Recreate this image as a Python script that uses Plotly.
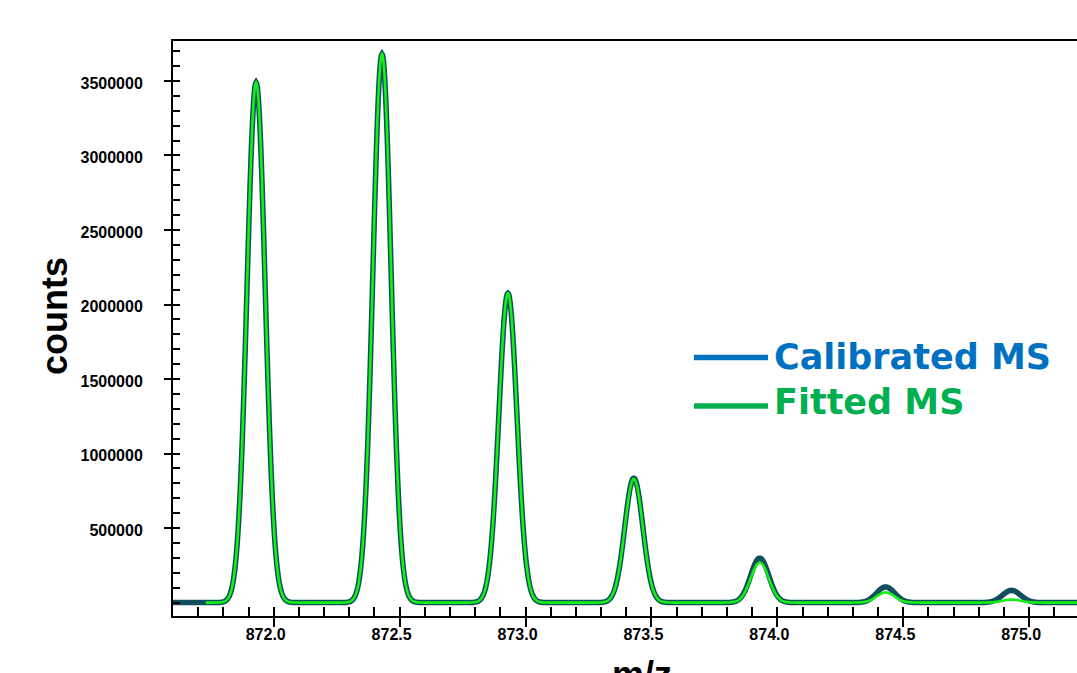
import numpy as np
import plotly.graph_objects as go

# ---- data ----
peak_mz = [871.93, 872.43, 872.93, 873.43, 873.93, 874.43, 874.93]
calibrated_heights = [3490000, 3680000, 2075000, 835000, 298000, 105000, 82000]
fitted_heights = [3490000, 3680000, 2075000, 830000, 268000, 68000, 20000]
peak_sigma = 0.036
calibrated_mz_range = [871.55, 875.40]
fitted_mz_range = [871.73, 875.40]

y_tick_vals = [500000, 1000000, 1500000, 2000000, 2500000, 3000000, 3500000]
y_tick_text = [str(v) for v in y_tick_vals]
x_tick_vals = [872.0, 872.5, 873.0, 873.5, 874.0, 874.5, 875.0]
x_tick_text = ["%.1f" % v for v in x_tick_vals]
x_minor_vals = [round(871.7 + 0.1 * i, 1) for i in range(35)]
y_minor_vals = [100000 * i for i in range(38)]

x_range = [871.60, 875.19]
y_range = [-90000, 3768000]


def profile(lo, hi, heights):
    mz = np.arange(lo, hi, 0.002)
    inten = np.zeros_like(mz)
    for c, h in zip(peak_mz, heights):
        inten += h * np.exp(-0.5 * ((mz - c) / peak_sigma) ** 2)
    return mz, inten


cal_x, cal_y = profile(*calibrated_mz_range, calibrated_heights)
fit_x, fit_y = profile(*fitted_mz_range, fitted_heights)

FONT = "Liberation Sans, Arial, Helvetica, sans-serif"

fig = go.Figure()
fig.add_trace(go.Scatter(x=cal_x, y=cal_y, mode="lines", name="Calibrated MS",
                         line=dict(color="#104E5E", width=5.5, simplify=False),
                         showlegend=False))
fig.add_trace(go.Scatter(x=fit_x, y=fit_y, mode="lines", name="Fitted MS",
                         line=dict(color="#14F014", width=2.6, simplify=False),
                         showlegend=False))
# empty trace to create the overlay axes that carry the inside ticks
fig.add_trace(go.Scatter(x=[], y=[], xaxis="x2", yaxis="y2", showlegend=False,
                         hoverinfo="skip"))

fig.update_layout(
    width=1077, height=673,
    margin=dict(l=173, r=0, t=41, b=57),
    paper_bgcolor="white", plot_bgcolor="white",
    showlegend=False,
    xaxis=dict(range=x_range, showgrid=False, zeroline=False,
               showline=True, linecolor="black", linewidth=2, mirror=True,
               tickmode="array", tickvals=x_tick_vals, ticktext=x_tick_text,
               ticks="outside", ticklen=9, tickwidth=2, tickcolor="black",
               ticklabelshift=-8, ticklabelstandoff=-6,
               tickfont=dict(family=FONT, size=16, color="black", weight="bold")),
    yaxis=dict(range=y_range, showgrid=False, zeroline=False,
               showline=True, linecolor="black", linewidth=2,
               tickmode="array", tickvals=y_tick_vals, ticktext=y_tick_text,
               ticks="outside", ticklen=7, tickwidth=2, tickcolor="black",
               ticklabelstandoff=18, ticklabelshift=2,
               tickfont=dict(family=FONT, size=16, color="black", weight="bold")),
    xaxis2=dict(range=x_range, overlaying="x", anchor="y", side="bottom",
                showgrid=False, zeroline=False, showline=False,
                tickmode="array", tickvals=x_minor_vals, showticklabels=False,
                ticks="inside", ticklen=9, tickwidth=2, tickcolor="black"),
    yaxis2=dict(range=y_range, overlaying="y", anchor="x", side="left",
                showgrid=False, zeroline=False, showline=False,
                tickmode="array", tickvals=y_minor_vals, showticklabels=False,
                ticks="inside", ticklen=7, tickwidth=2, tickcolor="black"),
)

# axis titles
fig.add_annotation(text="counts", xref="paper", yref="paper",
                   x=-0.131, y=0.521, xanchor="center", yanchor="middle",
                   textangle=-90, showarrow=False,
                   font=dict(family=FONT, size=36, color="black", weight="bold"))
fig.add_annotation(text="m/z", xref="paper", yref="paper",
                   x=0.5185, y=-0.062, xanchor="center", yanchor="top",
                   showarrow=False,
                   font=dict(family=FONT, size=36, color="black", weight="bold"))

# custom legend
LEG_FONT = "DejaVu Sans, Liberation Sans, sans-serif"
legend_items = [("Calibrated MS", "#0070C0", 357.5, 357), ("Fitted MS", "#00B050", 406, 401.5)]
for label, color, line_y, text_y in legend_items:
    yl = (616 - line_y) / 575
    yt = (616 - text_y) / 575
    fig.add_shape(type="line", xref="paper", yref="paper",
                  x0=(694 - 173) / 904, x1=(768 - 173) / 904, y0=yl, y1=yl,
                  line=dict(color=color, width=5.5))
    fig.add_annotation(text=label, xref="paper", yref="paper",
                       x=(772 - 173) / 904, y=yt, xanchor="left", yanchor="middle",
                       showarrow=False,
                       font=dict(family=LEG_FONT, size=35, color=color, weight="bold"))

fig.write_html("out.html")
